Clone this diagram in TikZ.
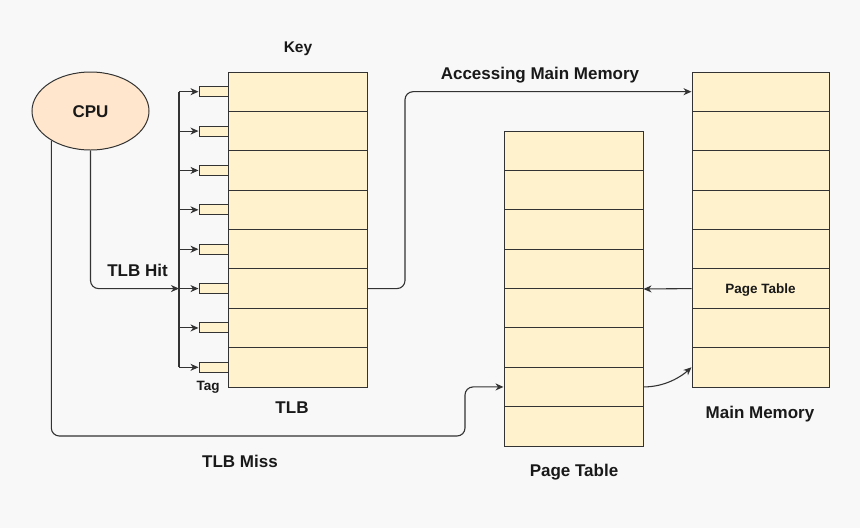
\documentclass[tikz,border=0pt]{standalone}
\usepackage{fontspec}
\setmainfont{Liberation Sans}
\usepackage{xcolor}
\usepackage{tikz}
\usetikzlibrary{positioning,arrows.meta,shapes.geometric,calc}
\definecolor{cellcolor}{HTML}{FFF2CC}
\definecolor{cpucolor}{HTML}{FFE6CC}
\definecolor{linecolor}{HTML}{333333}
\definecolor{bgcolor}{HTML}{F8F8F8}
\tikzset{
    cell/.style={rectangle, draw=linecolor, line width=1pt, fill=cellcolor, inner sep=0pt, minimum height=39.375pt},
    tlb cell/.style={cell, minimum width=139pt},
    pt cell/.style={cell, minimum width=139pt},
    mm cell/.style={cell, minimum width=137pt},
    tag cell/.style={cell, minimum width=29pt, minimum height=10pt},
    cpu node/.style={ellipse, draw=linecolor, line width=1pt, fill=cpucolor, minimum width=117pt, minimum height=78pt, inner sep=0pt},
    link/.style={-{Stealth[length=8pt, width=7pt, inset=2.5pt]}, draw=linecolor, line width=1.1pt},
    plain link/.style={draw=linecolor, line width=1.1pt},
    big label/.style={font=\bfseries\fontsize{17}{20}\selectfont, text=black!90, inner sep=0pt, text height=12.2pt, text depth=0pt},
    mid label/.style={font=\bfseries\fontsize{15.5}{18}\selectfont, text=black!90, inner sep=0pt, text height=11pt, text depth=0pt},
    small label/.style={font=\bfseries\fontsize{13.5}{16}\selectfont, text=black!90, inner sep=0pt, text height=9.7pt, text depth=0pt}
}

\begin{document}
\begin{tikzpicture}[x=1pt, y=-1pt]
    % Background
    \fill[bgcolor] (0,0) rectangle (860,528);
    \useasboundingbox (0,0) rectangle (860,528);

    % CPU
    \node[cpu node, big label] (CPU) at (90.5,111) {CPU};

    % TLB rows with tags
    \foreach \i in {0,...,7} {
        \node[tlb cell] (TLB-\i) at (297.5,{72+39.375*(\i+0.5)}) {};
        \node[tag cell] (Tag-\i) at (213.5,{72+39.375*(\i+0.5)}) {};
        \coordinate (Bus-\i) at (179,{72+39.375*(\i+0.5)});
    }

    % Page table rows
    \foreach \i in {0,...,7} {
        \node[pt cell] (PT-\i) at (573.5,{131+39.375*(\i+0.5)}) {};
    }

    % Main memory rows
    \foreach \i in {0,...,7} {
        \node[mm cell] (MM-\i) at (760.5,{72+39.375*(\i+0.5)}) {};
    }
    \node[small label] at (MM-5) {Page Table};

    % Tag bus
    \draw[plain link] (Bus-0) -- (Bus-7);
    \foreach \i in {0,...,7} {
        \draw[link] (Bus-\i) -- (Tag-\i.west);
    }

    % TLB hit
    \draw[link, rounded corners=8pt] (CPU.south) |- (Bus-5);

    % TLB miss
    \coordinate (miss) at (465,436);
    \draw[link, rounded corners=8pt] (CPU.217) |- (miss) |- (PT-6.west);

    % Accessing main memory
    \coordinate (access) at (405,200);
    \draw[link, rounded corners=8pt] (TLB-5.east) -| (access) |- (MM-0.west);

    % Page table lookups
    \draw[link] (MM-5.west) -- (PT-3.south east);
    \draw[link] (PT-6.east) .. controls +(22,0) and +(-10,9) .. (MM-7.west);

    % Labels
    \node[mid label] at (298,47) {Key};
    \node[small label] at (208,386) {Tag};
    \node[big label] at (292,407) {TLB};
    \node[big label] at (137.5,270) {TLB Hit};
    \node[big label] at (240,461) {TLB Miss};
    \node[big label] at (540,73) {Accessing Main Memory};
    \node[big label] at (760,412) {Main Memory};
    \node[big label] at (574,470) {Page Table};
\end{tikzpicture}
\end{document}
